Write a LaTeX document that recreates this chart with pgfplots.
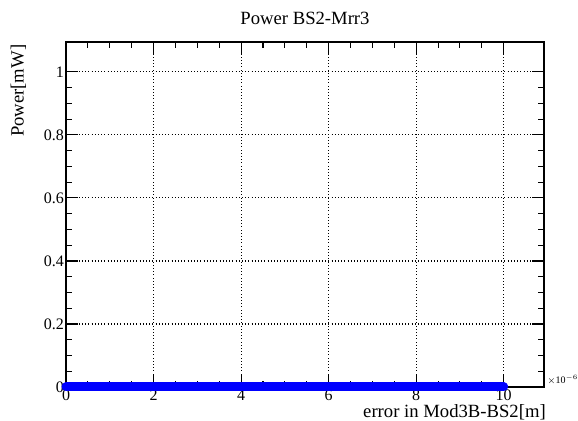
\documentclass[border=0pt]{standalone}
\usepackage{fontspec}
\setmainfont{Liberation Serif}
\usepackage{pgfplots}
\pgfplotsset{compat=1.18}
\begin{document}
\begin{tikzpicture}[x=0.75pt,y=0.75pt]
\path[use as bounding box] (0,0) rectangle (578,421);
\begin{axis}[
  at={(66*0.75pt,34*0.75pt)}, anchor=south west,
  scale only axis,
  width=478*0.75pt, height=345*0.75pt,
  xmin=0, xmax=10.92, ymin=0, ymax=1.095,
  xtick={0,2,4,6,8,10},
  ytick={0,0.2,0.4,0.6,0.8,1},
  minor x tick num=3, minor y tick num=3,
  tick align=inside,
  xtick pos=both, ytick pos=both,
  major tick length=9pt, minor tick length=4.5pt,
  grid=major,
  major grid style={black, dotted, line width=0.8pt},
  axis line style={line width=0.8pt},
  every tick/.style={black, line width=0.8pt},
  tick label style={font=\fontsize{12}{14}\selectfont},
  /pgf/number format/assume math mode=true,
  xticklabel style={inner sep=0pt, yshift=-2pt},
  yticklabel style={xshift=2pt},
  clip=false,
]
\addplot[blue, line width=6.75pt, line cap=round] coordinates {
(0,0) (0.5,0) (1,0) (1.5,0) (2,0) (2.5,0) (3,0) (3.5,0) (4,0) (4.5,0) (5,0)
(5.5,0) (6,0) (6.5,0) (7,0) (7.5,0) (8,0) (8.5,0) (9,0) (9.5,0) (10,0)};
\end{axis}
\node[font=\fontsize{14}{16}\selectfont] at (305,403) {Power BS2-Mrr3};
\node[font=\fontsize{14}{16}\selectfont, rotate=90, anchor=north east] at (6,381) {Power[mW]};
\node[font=\fontsize{14}{16}\selectfont, anchor=east, inner sep=0pt] at (546,9) {error in Mod3B-BS2[m]};
\node[font=\fontsize{7.5}{9}\selectfont, anchor=west, inner sep=0pt] at (547,41) {$\times$10$^{-6}$};
\end{tikzpicture}
\end{document}
